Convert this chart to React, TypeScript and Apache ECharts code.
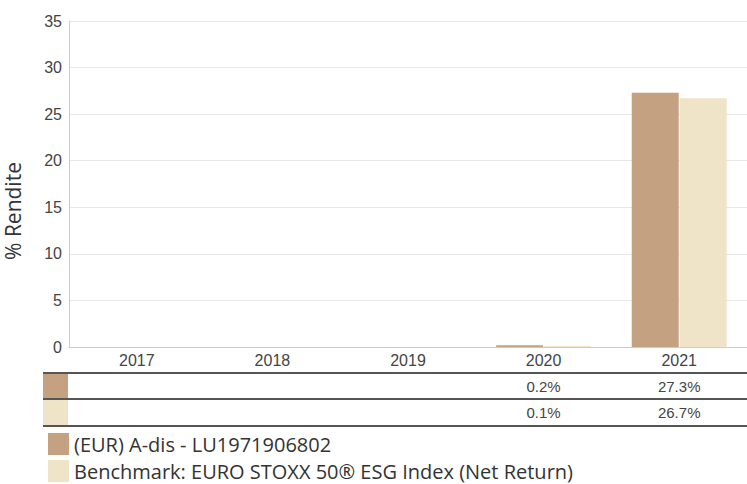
import React, { useEffect, useRef } from "react";
import * as echarts from "echarts";

const categories = ["2017", "2018", "2019", "2020", "2021"];
const fundValues: (number | null)[] = [null, null, null, 0.2, 27.3];
const benchValues: (number | null)[] = [null, null, null, 0.1, 26.7];
const fundName = "(EUR) A-dis - LU1971906802";
const benchName = "Benchmark: EURO STOXX 50® ESG Index (Net Return)";
const yAxisTitle = "% Rendite";
const yTicks = { min: 0, max: 35, interval: 5 };

const fundColor = "#C4A181";
const benchColor = "#EFE3C8";

const fmt = (v: number | null) => (v == null ? "" : v.toFixed(1) + "%");

export default function App() {
  const ref = useRef<HTMLDivElement>(null);
  useEffect(() => {
    if (!ref.current) return;
    const chart = echarts.init(ref.current, undefined, { renderer: "svg" });
    const W = 747;
    const lineColor = "#555";
    const legendText = { fontFamily: "Open Sans", fontSize: 20, color: "#333", lineHeight: 22 };
    chart.setOption({
      animation: false,
      grid: { left: 69, right: -4, top: 21, bottom: 137, containLabel: false },
      legend: [
        {
          left: 48,
          top: 433,
          itemWidth: 21,
          itemHeight: 22,
          itemGap: 6,
          padding: 0,
          icon: "rect",
          selectedMode: false,
          textStyle: legendText,
          data: [fundName],
        },
        {
          left: 48,
          top: 460,
          itemWidth: 21,
          itemHeight: 22,
          itemGap: 6,
          padding: 0,
          icon: "rect",
          selectedMode: false,
          textStyle: legendText,
          data: [benchName],
        },
      ],
      xAxis: [
        {
          type: "category",
          data: categories,
          position: "bottom",
          axisLine: { show: true, lineStyle: { color: "#ccc", width: 1 } },
          axisTick: { show: false },
          axisLabel: { fontFamily: "Liberation Sans", fontSize: 16, color: "#444", margin: 5 },
        },
        {
          type: "category",
          data: fundValues.map(fmt),
          position: "bottom",
          offset: 26,
          gridIndex: 0,
          axisLine: { show: false },
          axisTick: { show: false },
          axisLabel: { fontFamily: "Liberation Sans", fontSize: 15, color: "#444", margin: 6 },
        },
        {
          type: "category",
          data: benchValues.map(fmt),
          position: "bottom",
          offset: 52,
          gridIndex: 0,
          axisLine: { show: false },
          axisTick: { show: false },
          axisLabel: { fontFamily: "Liberation Sans", fontSize: 15, color: "#444", margin: 6 },
        },
      ],
      yAxis: {
        type: "value",
        min: yTicks.min,
        max: yTicks.max,
        interval: yTicks.interval,
        axisLine: { show: true, lineStyle: { color: "#ccc", width: 1 } },
        axisTick: { show: false },
        axisLabel: { fontFamily: "Liberation Sans", fontSize: 16, color: "#444", margin: 7 },
        splitLine: { lineStyle: { color: "#e8e8e8", width: 1 } },
      },
      series: [
        {
          name: fundName,
          type: "bar",
          data: fundValues,
          itemStyle: { color: fundColor },
          barCategoryGap: "30%",
          barGap: "2%",
        },
        {
          name: benchName,
          type: "bar",
          data: benchValues,
          itemStyle: { color: benchColor },
          barCategoryGap: "30%",
          barGap: "2%",
        },
      ],
      graphic: [
        {
          type: "text",
          x: 13,
          y: 211,
          rotation: Math.PI / 2,
          style: {
            text: yAxisTitle,
            fontFamily: "Open Sans",
            fontSize: 21,
            fill: "#333",
            align: "center",
            verticalAlign: "middle",
          },
        },
        { type: "rect", shape: { x: 43, y: 374, width: 25, height: 25 }, style: { fill: fundColor } },
        { type: "rect", shape: { x: 43, y: 400, width: 25, height: 25 }, style: { fill: benchColor } },
        { type: "line", shape: { x1: 43, y1: 373, x2: W, y2: 373 }, style: { stroke: lineColor, lineWidth: 2 } },
        { type: "line", shape: { x1: 43, y1: 399, x2: W, y2: 399 }, style: { stroke: lineColor, lineWidth: 2 } },
        { type: "line", shape: { x1: 43, y1: 426, x2: W, y2: 426 }, style: { stroke: lineColor, lineWidth: 2 } },
      ],
    });
    return () => chart.dispose();
  }, []);
  return (
    <div
      ref={ref}
      style={{ position: "absolute", left: 0, top: 0, width: 747, height: 484 }}
    />
  );
}
